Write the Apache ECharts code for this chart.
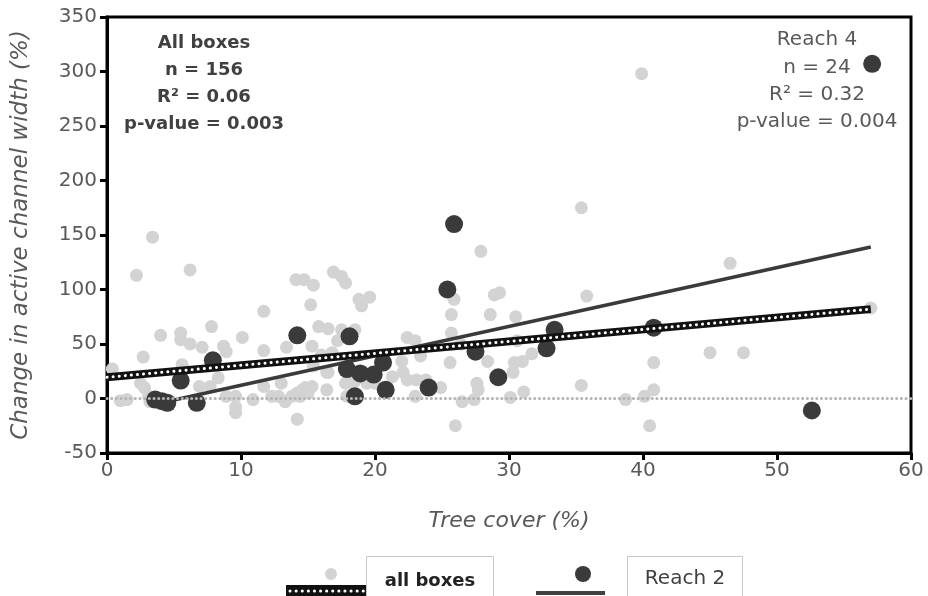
<!DOCTYPE html>
<html>
<head>
<meta charset="utf-8">
<script src="https://cdn.jsdelivr.net/npm/echarts@6/dist/echarts.min.js"></script>
<style>html,body{margin:0;padding:0;background:#fff}#c{width:928px;height:596px}</style>
</head>
<body>
<div id="c"></div>
<script>
// ---- data ----
var grayX = [0.4,2.2,3.4,6.2,4.0,5.5,5.5,6.2,7.8,8.7,8.9,10.1,11.7,11.7,13.4,14.1,2.7,5.6,2.5,2.8,1.5,3.1,3.2,6.9,7.7,8.3,8.9,9.6,9.6,9.6,10.9,11.7,12.3,12.8,13.0,13.3,13.8,14.2,14.4,14.6,15.0,15.3,14.2,16.4,16.4,17.8,18.3,17.9,19.4,7.1,14.7,15.4,16.9,17.5,17.8,15.2,18.8,19.0,19.6,15.8,16.5,17.5,18.5,17.2,15.3,16.0,16.8,15.4,16.5,14.8,18.5,19.6,20.0,21.3,22.1,22.4,22.0,22.4,23.0,23.4,23.1,23.8,23.0,24.9,25.6,25.7,25.7,25.9,27.9,26.5,27.4,27.6,26.0,35.4,28.9,29.3,28.6,30.5,35.8,30.6,28.4,30.4,31.0,31.7,30.3,27.7,30.1,31.1,35.4,38.7,40.1,40.8,40.8,40.5,39.9,46.5,45.0,47.5,57.0,26.4,1.0];
var grayY = [27,113,148,118,58,60,54,50,66,48,43,56,80,44,47,109,38,31,14,10,-1,2,-3,11,11,19,2,2,-8,-13,-1,11,2,2,14,-3,2,5,2,8,5,11,-19,24,8,14,14,2,14,47,109,104,116,112,106,86,91,85,93,66,64,63,63,53,48,40,42,30,24,10,16,20,14,20,24,17,34,56,53,39,17,17,2,10,33,60,77,91,135,-3,-1,14,-25,175,95,97,77,75,94,53,34,33,34,41,24,8,1,6,12,-1,2,8,33,-25,298,124,42,42,83,50,-2];
var reachX = [3.6,4.1,4.5,5.5,6.7,7.9,14.2,25.9,25.4,18.1,27.5,20.6,17.9,18.9,19.9,24.0,20.8,18.5,33.4,32.8,29.2,40.8,52.6,57.1];
var reachY = [-1,-2.5,-4,16.5,-4,35,58,160,100,57,43,33,27,23,22,10,8,2,63,46,19.5,65,-11,307];
var allFitX = [0, 57];
var allFitY = [19.5, 82];
var reachFitX = [4.4, 57];
var reachFitY = [-3, 139];
var xTicks = [0, 60, 10];
var yTicks = [-50, 350, 50];
var legendNames = ['all boxes', 'Reach 2'];
var statsAll = ['All boxes', 'n = 156', 'R\u00b2 = 0.06', 'p-value = 0.003'];
var statsReach = ['Reach 4', 'n = 24', 'R\u00b2 = 0.32', 'p-value = 0.004'];

function zip(a, b) { return a.map(function (v, i) { return [v, b[i]]; }); }

var FONT = '"DejaVu Sans", sans-serif';
var chart = echarts.init(document.getElementById('c'), null, {renderer: 'canvas'});

var graphics = [];
statsAll.forEach(function (t, i) {
  graphics.push({type: 'text', x: 204, y: 43 + i * 27, z: 100,
    style: {text: t, x: 0, y: 0, textAlign: 'center', textVerticalAlign: 'middle',
      font: 'bold 18px ' + FONT, fill: '#404040'}});
});
statsReach.forEach(function (t, i) {
  graphics.push({type: 'text', x: 817, y: 40 + i * 27.3, z: 100,
    style: {text: t, x: 0, y: 0, textAlign: 'center', textVerticalAlign: 'middle',
      font: '20px ' + FONT, fill: '#595959'}});
});
// legend (bottom)
graphics.push({type: 'rect', shape: {x: 286, y: 585, width: 82, height: 12}, style: {fill: '#111'}, z: 100});
graphics.push({type: 'line', shape: {x1: 290, y1: 591, x2: 366, y2: 591},
  style: {stroke: '#fff', lineWidth: 3, lineDash: [0.1, 6], lineCap: 'round'}, z: 101});
graphics.push({type: 'circle', shape: {cx: 331, cy: 574, r: 6}, style: {fill: '#d3d3d3'}, z: 100});
graphics.push({type: 'rect', shape: {x: 366.5, y: 556.5, width: 127, height: 45}, style: {fill: '#fff', stroke: '#c8c8c8', lineWidth: 1}, z: 100});
graphics.push({type: 'text', x: 430, y: 581, z: 101, style: {text: legendNames[0], textAlign: 'center', textVerticalAlign: 'middle', font: 'bold 18px ' + FONT, fill: '#222'}});
graphics.push({type: 'line', shape: {x1: 536, y1: 593, x2: 605, y2: 593}, style: {stroke: '#404040', lineWidth: 4}, z: 100});
graphics.push({type: 'circle', shape: {cx: 583, cy: 574, r: 8}, style: {fill: '#3a3a3a'}, z: 100});
graphics.push({type: 'rect', shape: {x: 627.5, y: 556.5, width: 115, height: 45}, style: {fill: '#fff', stroke: '#c8c8c8', lineWidth: 1}, z: 100});
graphics.push({type: 'text', x: 685, y: 579, z: 101, style: {text: legendNames[1], textAlign: 'center', textVerticalAlign: 'middle', font: '20px ' + FONT, fill: '#404040'}});

var option = {
  animation: false,
  backgroundColor: '#fff',
  grid: {left: 107, right: 17, top: 17, bottom: 143, show: true, borderColor: '#000', borderWidth: 3, backgroundColor: 'transparent'},
  xAxis: {
    type: 'value', min: xTicks[0], max: xTicks[1], interval: xTicks[2],
    name: 'Tree cover (%)', nameLocation: 'middle', nameGap: 57,
    nameTextStyle: {fontFamily: FONT, fontStyle: 'italic', fontSize: 22, color: '#595959'},
    axisLine: {show: true, onZero: false, lineStyle: {color: '#000', width: 3}},
    axisTick: {show: true, length: 7, lineStyle: {color: '#000', width: 3}},
    axisLabel: {fontFamily: FONT, fontSize: 20, color: '#595959', margin: 8},
    splitLine: {show: false}
  },
  yAxis: {
    type: 'value', min: yTicks[0], max: yTicks[1], interval: yTicks[2],
    name: 'Change in active channel width (%)', nameLocation: 'middle', nameGap: 74,
    nameTextStyle: {fontFamily: FONT, fontStyle: 'italic', fontSize: 23, color: '#595959'},
    axisLine: {show: true, onZero: false, lineStyle: {color: '#000', width: 3}},
    axisTick: {show: true, length: 7, lineStyle: {color: '#000', width: 3}},
    axisLabel: {fontFamily: FONT, fontSize: 20, color: '#595959', margin: 10},
    splitLine: {show: false}
  },
  series: [
    {type: 'scatter', name: 'all boxes', data: zip(grayX, grayY), symbolSize: 13,
      itemStyle: {color: '#d3d3d3', opacity: 1}, z: 2,
      markLine: {silent: true, symbol: 'none', label: {show: false},
        lineStyle: {color: '#b4b4b4', width: 3, type: [0.1, 4.6], cap: 'round'},
        data: [{yAxis: 0}]}},
    {type: 'scatter', name: 'Reach 2', data: zip(reachX, reachY), symbolSize: 18,
      itemStyle: {color: '#3a3a3a', opacity: 1}, z: 3},
    {type: 'line', data: zip(reachFitX, reachFitY), symbol: 'none', z: 4,
      lineStyle: {color: '#3a3a3a', width: 3.5}},
    {type: 'line', data: zip(allFitX, allFitY), symbol: 'none', z: 5,
      lineStyle: {color: '#111', width: 8}},
    {type: 'line', data: zip(allFitX, allFitY), symbol: 'none', z: 6,
      lineStyle: {color: '#fff', width: 3, type: [0.1, 6], cap: 'round'}}
  ],
  graphic: graphics
};
chart.setOption(option);
</script>
</body>
</html>
